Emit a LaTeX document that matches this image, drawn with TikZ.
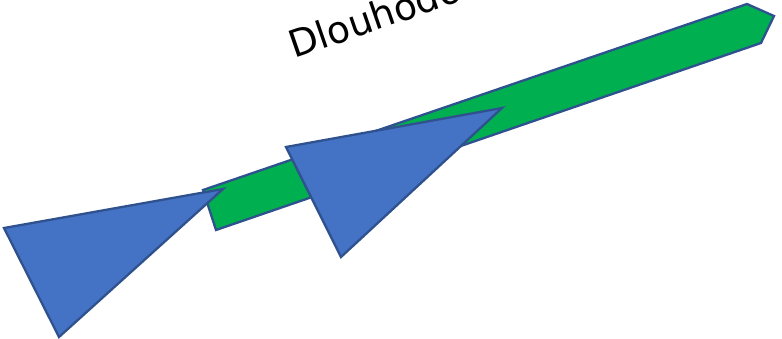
\documentclass[tikz,border=0pt]{standalone}
\usepackage{fontspec}
\setmainfont{DejaVu Sans}
\definecolor{pgreen}{HTML}{00B050}
\definecolor{pblue}{HTML}{4472C4}
\definecolor{pline}{HTML}{2F528F}
\begin{document}
\begin{tikzpicture}[x=1pt,y=-1pt,
  shapeline/.style={draw=pline,line width=2.3pt,line join=miter},
  greenarrow/.style={shapeline,fill=pgreen},
  bluetri/.style={shapeline,fill=pblue},
  slanttext/.style={anchor=base west,rotate=19,inner sep=0pt,font=\fontsize{37.5}{40}\selectfont}]
\useasboundingbox (0,0) rectangle (782,338);
% green pentagon arrow
\coordinate (g1) at (203,190);
\coordinate (g2) at (747,4);
\coordinate (g3) at (774,16);
\coordinate (g4) at (761,43);
\coordinate (g5) at (216,230);
\draw[greenarrow] (g1) -- (g2) -- (g3) -- (g4) -- (g5) -- cycle;
% left triangle
\coordinate (a1) at (4,228);
\coordinate (a2) at (223,189);
\coordinate (a3) at (59,337);
\draw[bluetri] (a1) -- (a2) -- (a3) -- cycle;
% right triangle
\coordinate (b1) at (286,147);
\coordinate (b2) at (502,108);
\coordinate (b3) at (341,257);
\draw[bluetri] (b1) -- (b2) -- (b3) -- cycle;
% text
\node[slanttext] (title) at (294,59) {Dlouhodo};
\end{tikzpicture}
\end{document}
